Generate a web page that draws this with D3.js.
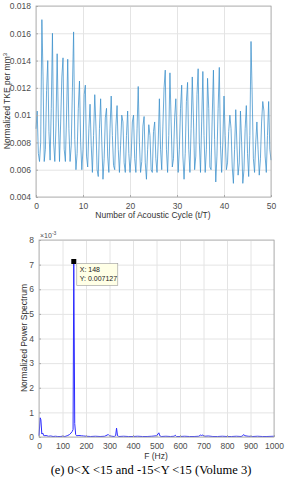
<!DOCTYPE html>
<html>
<head>
<meta charset="utf-8">
<script src="https://cdnjs.cloudflare.com/ajax/libs/d3/7.8.5/d3.min.js"></script>
<style>
  body { margin: 0; background: #fff; }
  .tick text { font-family: "Liberation Sans", Arial, sans-serif; fill: #4d4d4d; }
</style>
</head>
<body>
<script>
// top panel: TKE sampled every quarter acoustic cycle
var tkeStep = 0.25;
var tkeValues = [
  0.0090, 0.0103, 0.0072, 0.0066, 0.0080, 0.0170, 0.0128, 0.0066, 0.0075, 0.0118,
  0.0140, 0.0088, 0.0067, 0.0105, 0.0160, 0.0080, 0.0066, 0.0092, 0.0145, 0.0098,
  0.0066, 0.0095, 0.0128, 0.0142, 0.0075, 0.0066, 0.0100, 0.0141, 0.0090, 0.0066,
  0.0078, 0.0120, 0.0161, 0.0082, 0.0060, 0.0072, 0.0105, 0.0125, 0.0080, 0.0060,
  0.0075, 0.0115, 0.0122, 0.0070, 0.0062, 0.0090, 0.0108, 0.0078, 0.0058, 0.0085,
  0.0115, 0.0092, 0.0060, 0.0055, 0.0090, 0.0112, 0.0080, 0.0053, 0.0068, 0.0098,
  0.0105, 0.0070, 0.0058, 0.0090, 0.0114, 0.0085, 0.0063, 0.0060, 0.0092, 0.0107,
  0.0075, 0.0058, 0.0078, 0.0100, 0.0095, 0.0065, 0.0058, 0.0085, 0.0103, 0.0072,
  0.0058, 0.0070, 0.0095, 0.0100, 0.0068, 0.0058, 0.0090, 0.0121, 0.0080, 0.0058,
  0.0066, 0.0092, 0.0099, 0.0065, 0.0053, 0.0075, 0.0093, 0.0085, 0.0060, 0.0058,
  0.0088, 0.0095, 0.0068, 0.0058, 0.0080, 0.0112, 0.0075, 0.0060, 0.0092, 0.0120,
  0.0133, 0.0075, 0.0058, 0.0085, 0.0131, 0.0095, 0.0062, 0.0068, 0.0098, 0.0112,
  0.0082, 0.0058, 0.0075, 0.0105, 0.0122, 0.0070, 0.0053, 0.0072, 0.0110, 0.0124,
  0.0075, 0.0058, 0.0090, 0.0128, 0.0098, 0.0060, 0.0070, 0.0115, 0.0134, 0.0080,
  0.0058, 0.0095, 0.0132, 0.0085, 0.0058, 0.0075, 0.0127, 0.0105, 0.0062, 0.0060,
  0.0100, 0.0133, 0.0082, 0.0051, 0.0070, 0.0105, 0.0135, 0.0078, 0.0058, 0.0080,
  0.0114, 0.0085, 0.0060, 0.0065, 0.0088, 0.0100, 0.0090, 0.0062, 0.0050, 0.0075,
  0.0104, 0.0078, 0.0056, 0.0065, 0.0103, 0.0080, 0.0050, 0.0060, 0.0090, 0.0107,
  0.0072, 0.0055, 0.0085, 0.0154, 0.0114, 0.0068, 0.0058, 0.0080, 0.0095, 0.0075,
  0.0056, 0.0068, 0.0095, 0.0110, 0.0103, 0.0070, 0.0058, 0.0085, 0.0110, 0.0075,
  0.0067
];
var tkeXTicks = [0, 10, 20, 30, 40, 50];
var tkeYTicks = [0.004, 0.006, 0.008, 0.01, 0.012, 0.014, 0.016, 0.018];

// bottom panel: spectrum (power in units of 1e-3)
var freqHz = [0, 5, 8, 12, 16, 20, 25, 30, 40, 50, 60, 70, 80, 90, 100, 110, 120, 130, 136, 141, 145,
  148, 152, 156, 160, 170, 180, 190, 200, 220, 240, 260, 280, 290, 295, 300, 310, 320, 326, 330, 334,
  340, 360, 380, 400, 420, 440, 460, 480, 500, 506, 510, 514, 520, 540, 560, 575, 580, 585, 600,
  620, 640, 660, 680, 688, 692, 697, 705, 720, 740, 760, 780, 800, 820, 840, 860, 867, 871, 876,
  890, 910, 930, 950, 970, 1000];
var powerE3 = [0.05, 0.78, 0.7, 0.12, 0.16, 0.06, 0.05, 0.06, 0.03, 0.04, 0.02, 0.03, 0.02, 0.02, 0.03, 0.02, 0.05, 0.1, 0.16, 0.22, 0.3,
  7.127, 0.55, 0.1, 0.05, 0.06, 0.05, 0.04, 0.03, 0.02, 0.03, 0.02, 0.03, 0.08, 0.1, 0.05, 0.03, 0.02, 0.05, 0.36, 0.05,
  0.02, 0.03, 0.02, 0.02, 0.03, 0.02, 0.02, 0.03, 0.05, 0.12, 0.17, 0.05, 0.02, 0.03, 0.02, 0.03, 0.07, 0.02, 0.02,
  0.03, 0.02, 0.02, 0.03, 0.08, 0.06, 0.08, 0.03, 0.04, 0.02, 0.02, 0.03, 0.02, 0.02, 0.03, 0.02, 0.05, 0.1, 0.05,
  0.03, 0.02, 0.03, 0.02, 0.02, 0.03];
var specXTicks = [0, 100, 200, 300, 400, 500, 600, 700, 800, 900, 1000];
var specYTicks = [0, 1, 2, 3, 4, 5, 6, 7, 8];
var peakF = 148, peakP = 7.127;

var svg = d3.select("body").append("svg")
  .attr("width", 286)
  .attr("height", 480);

var gridColor = "#e4e4e4", boxColor = "#a8a8a8";

function drawFrame(x, y, xTicks, yTicks) {
  var g = svg.append("g");
  var x0 = x.range()[0], x1 = x.range()[1], y0 = y.range()[0], y1 = y.range()[1];
  g.append("rect").attr("x", x0).attr("y", y1).attr("width", x1 - x0).attr("height", y0 - y1).attr("fill", "#fff");
  // grid
  g.append("g").attr("transform", "translate(0," + y0 + ")")
    .call(d3.axisBottom(x).tickValues(xTicks).tickSize(-(y0 - y1)).tickFormat(""))
    .call(function (a) { a.select(".domain").remove(); a.selectAll("line").attr("stroke", gridColor); });
  g.append("g").attr("transform", "translate(" + x0 + ",0)")
    .call(d3.axisLeft(y).tickValues(yTicks).tickSize(-(x1 - x0)).tickFormat(""))
    .call(function (a) { a.select(".domain").remove(); a.selectAll("line").attr("stroke", gridColor); });
  return g;
}

function drawAxes(x, y, xTicks, yTicks, yFmt) {
  var g = svg.append("g");
  var x0 = x.range()[0], x1 = x.range()[1], y0 = y.range()[0], y1 = y.range()[1];
  g.append("g").attr("transform", "translate(0," + y0 + ")")
    .call(d3.axisBottom(x).tickValues(xTicks).tickSize(-2).tickPadding(6).tickFormat(d3.format("d")))
    .call(function (a) {
      a.select(".domain").remove();
      a.selectAll("line").attr("stroke", boxColor);
      a.selectAll("text").attr("font-size", 8.5);
    });
  g.append("g").attr("transform", "translate(" + x0 + ",0)")
    .call(d3.axisLeft(y).tickValues(yTicks).tickSize(-2).tickPadding(5).tickFormat(yFmt))
    .call(function (a) {
      a.select(".domain").remove();
      a.selectAll("line").attr("stroke", boxColor);
      a.selectAll("text").attr("font-size", 8.5);
    });
  g.append("rect").attr("x", x0).attr("y", y1).attr("width", x1 - x0).attr("height", y0 - y1)
    .attr("fill", "none").attr("stroke", boxColor).attr("stroke-width", 0.8);
}

// ---- top chart
var xT = d3.scaleLinear().domain([0, 50]).range([36, 271]);
var yT = d3.scaleLinear().domain([0.004, 0.018]).range([197, 6]);
drawFrame(xT, yT, tkeXTicks, tkeYTicks);
svg.append("path")
  .datum(tkeValues)
  .attr("fill", "none")
  .attr("stroke", "#3a8fcb")
  .attr("stroke-width", 0.75)
  .attr("stroke-linejoin", "round")
  .attr("d", d3.line().x(function (d, i) { return xT(i * tkeStep); }).y(function (d) { return yT(d); }));
drawAxes(xT, yT, tkeXTicks, tkeYTicks, function (d) { return d3.format("")(+d.toFixed(3)); });

svg.append("text")
  .attr("x", 153).attr("y", 218)
  .attr("text-anchor", "middle")
  .attr("font-family", "Liberation Sans, Arial, sans-serif")
  .attr("font-size", 8.5).attr("fill", "#333")
  .text("Number of Acoustic Cycle (t/T)");

var yl = svg.append("text")
  .attr("transform", "translate(10,101) rotate(-90)")
  .attr("text-anchor", "middle")
  .attr("font-family", "Liberation Sans, Arial, sans-serif")
  .attr("font-size", 8.5).attr("fill", "#333");
yl.append("tspan").text("Normalized TKE per mm");
yl.append("tspan").attr("font-size", 6).attr("dy", -3.5).text("3");

// ---- bottom chart
var xB = d3.scaleLinear().domain([0, 1000]).range([39, 274]);
var yB = d3.scaleLinear().domain([0, 8]).range([437, 240]);
drawFrame(xB, yB, specXTicks, specYTicks);
svg.append("path")
  .datum(d3.zip(freqHz, powerE3))
  .attr("fill", "none")
  .attr("stroke", "#2a2aff")
  .attr("stroke-width", 1)
  .attr("d", d3.line().x(function (d) { return xB(d[0]); }).y(function (d) { return yB(d[1]); }));
drawAxes(xB, yB, specXTicks, specYTicks, d3.format("d"));

var ex = svg.append("text")
  .attr("x", 40).attr("y", 238)
  .attr("font-family", "Liberation Sans, Arial, sans-serif")
  .attr("font-size", 7).attr("fill", "#4d4d4d");
ex.append("tspan").text("\u00d710");
ex.append("tspan").attr("font-size", 5).attr("dy", -3).text("-3");

svg.append("text")
  .attr("x", 156).attr("y", 459)
  .attr("text-anchor", "middle")
  .attr("font-family", "Liberation Sans, Arial, sans-serif")
  .attr("font-size", 8.5).attr("fill", "#333")
  .text("F (Hz)");

svg.append("text")
  .attr("transform", "translate(27,338) rotate(-90)")
  .attr("text-anchor", "middle")
  .attr("font-family", "Liberation Sans, Arial, sans-serif")
  .attr("font-size", 8.5).attr("fill", "#333")
  .text("Normalized Power Spectrum");

// data tip
svg.append("rect")
  .attr("x", xB(peakF) - 2.5).attr("y", yB(peakP) - 2.5)
  .attr("width", 5).attr("height", 5).attr("fill", "#000");
var tip = svg.append("g").attr("transform", "translate(" + (xB(peakF) + 3) + "," + (yB(peakP) + 2) + ")");
tip.append("rect").attr("width", 41).attr("height", 22)
  .attr("fill", "#ffffe6").attr("stroke", "#999").attr("stroke-width", 0.6);
tip.append("text").attr("x", 3).attr("y", 9)
  .attr("font-family", "Liberation Sans, Arial, sans-serif").attr("font-size", 7).attr("fill", "#222")
  .text("X: " + peakF);
tip.append("text").attr("x", 3).attr("y", 18)
  .attr("font-family", "Liberation Sans, Arial, sans-serif").attr("font-size", 7).attr("fill", "#222")
  .text("Y: " + (peakP / 1000).toFixed(6));

// caption
svg.append("text")
  .attr("x", 151).attr("y", 474)
  .attr("text-anchor", "middle")
  .attr("font-family", "Liberation Serif, Times New Roman, serif")
  .attr("font-size", 12.5).attr("fill", "#000")
  .text("(e) 0<X <15 and -15<Y <15 (Volume 3)");
</script>
</body>
</html>
